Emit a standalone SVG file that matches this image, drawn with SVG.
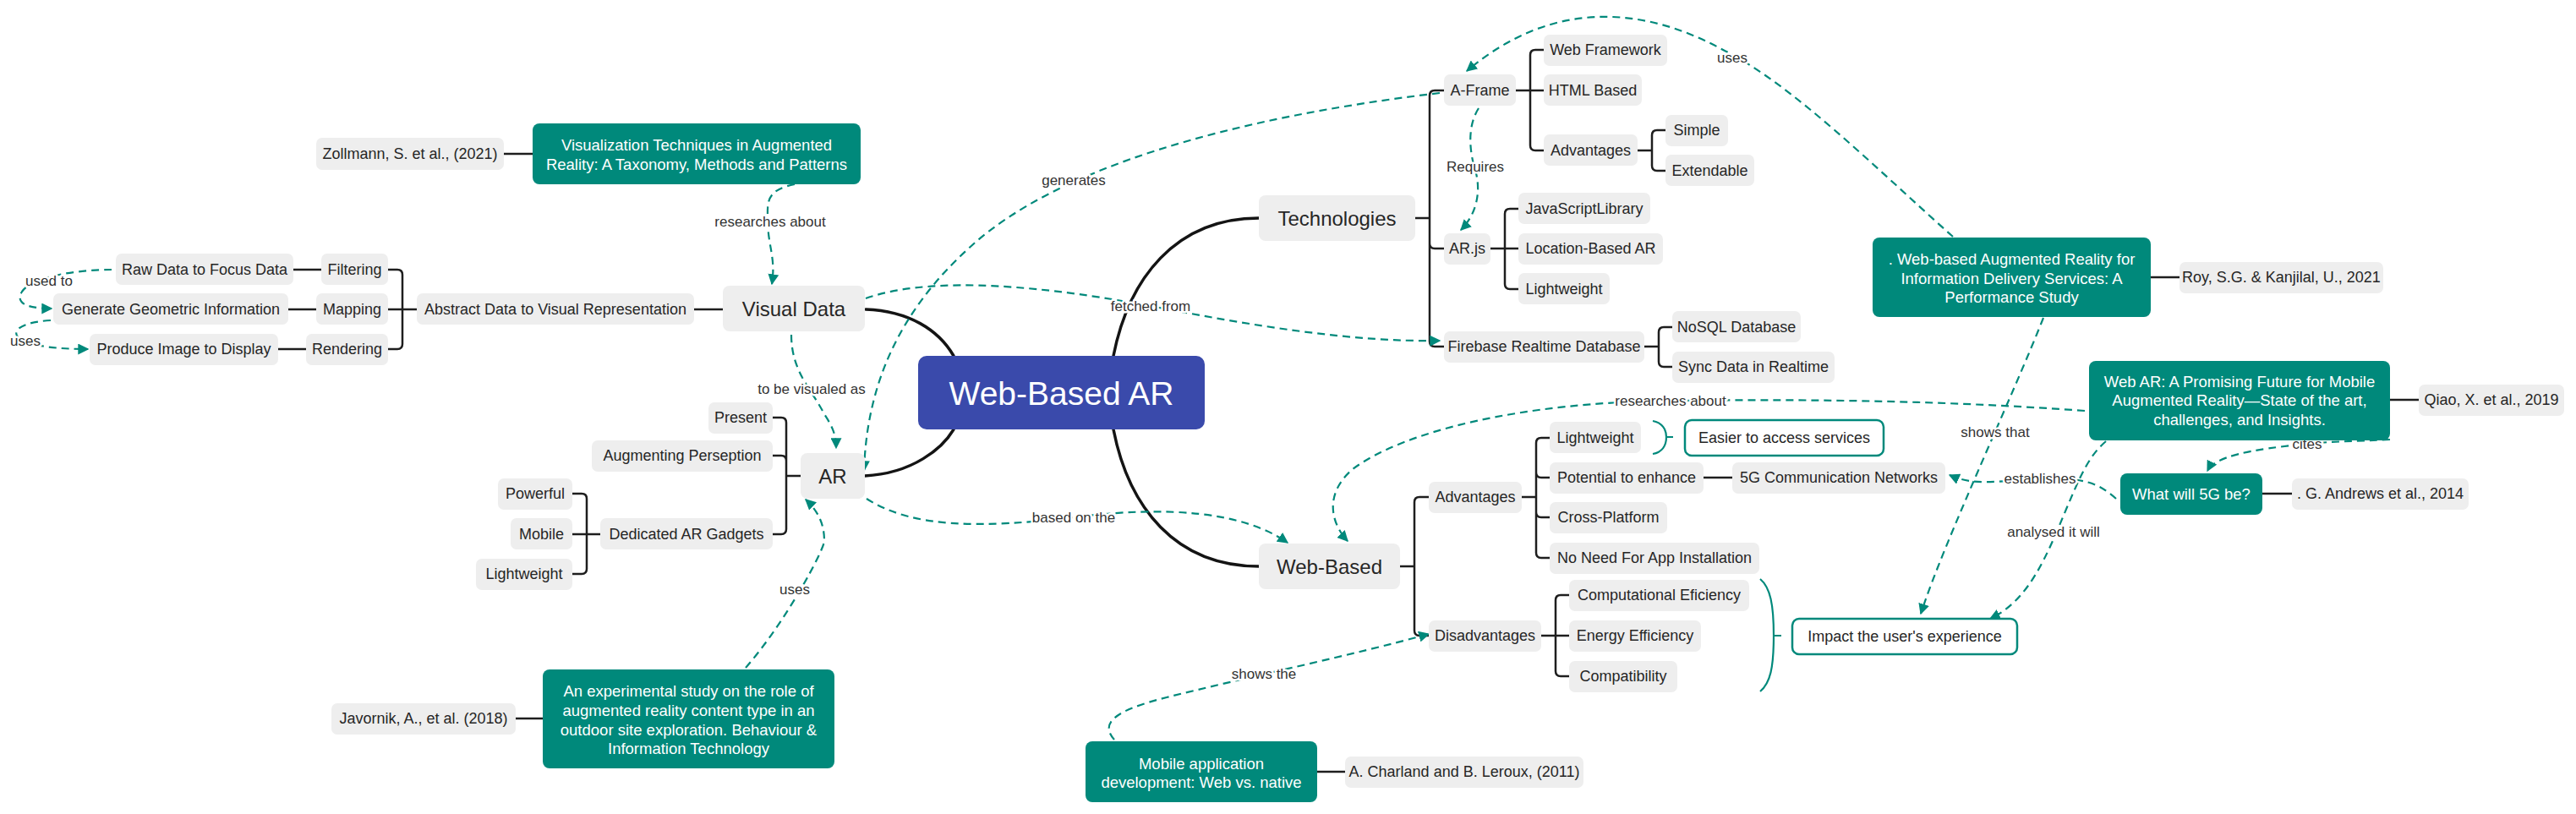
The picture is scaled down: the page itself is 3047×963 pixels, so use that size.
<svg xmlns="http://www.w3.org/2000/svg" width="3047" height="963" viewBox="0 0 3047 963">
<defs>
<style>
.box{fill:#EEEEEE}
.teal{fill:#00897B}
.center{fill:#3A4AAB}
.sum{fill:#FFFFFF;stroke:#00897B;stroke-width:2.5}
.tx{font-family:"Liberation Sans",Arial,sans-serif;font-size:18px;fill:#262626;text-anchor:middle;dominant-baseline:central}
.big{font-size:24px}
.wt{fill:#FFFFFF;font-size:18.5px}
.ct{fill:#FFFFFF;font-size:39px}
.tree{fill:none;stroke:#1E1E1E;stroke-width:2.5;stroke-linecap:round}
.main{fill:none;stroke:#141414;stroke-width:3.5;stroke-linecap:round}
.rel{fill:none;stroke:#00897B;stroke-width:2.2;stroke-dasharray:9 6;marker-end:url(#arr)}
.brace{fill:none;stroke:#00897B;stroke-width:2.2}
.lb{font-family:"Liberation Sans",Arial,sans-serif;font-size:17px;fill:#333333;text-anchor:middle;dominant-baseline:central;paint-order:stroke;stroke:#FFFFFF;stroke-width:5px;stroke-linejoin:round}
</style>
<marker id="arr" viewBox="0 0 10 10" refX="9" refY="5" markerWidth="13" markerHeight="13" markerUnits="userSpaceOnUse" orient="auto">
<path d="M0,0 L10,5 L0,10 z" fill="#00897B"/>
</marker>
</defs>
<rect x="0" y="0" width="3047" height="963" fill="#FFFFFF"/>

<g id="tree-lines">
<path class="tree" d="M347 319 H380 M341 366 H374 M329 413 H362"/>
<path class="tree" d="M459 319 H470 Q476 319 476 325 V407 Q476 413 470 413 H459 M459 366 H493"/>
<path class="tree" d="M821 366 H855"/>
<path class="tree" d="M596 182 H630"/>
<path class="tree" d="M610 850 H642"/>
<path class="tree" d="M914 494 H924 Q930 494 930 500 V626 Q930 632 924 632 H914 M914 539 H924 Q930 539 930 545 M930 563 H947"/>
<path class="tree" d="M677 584 H688 Q694 584 694 590 V673 Q694 679 688 679 H677 M677 632 H710"/>
<path class="tree" d="M1674 258 H1691 M1708 107 H1697 Q1691 107 1691 113 V404 Q1691 410 1697 410 H1708 M1691 288 Q1691 294 1697 294 H1708"/>
<path class="tree" d="M1793 107 H1826 M1826 59 H1816 Q1810 59 1810 65 V172 Q1810 178 1816 178 H1826"/>
<path class="tree" d="M1937 178 H1954 M1970 154 H1960 Q1954 154 1954 160 V196 Q1954 202 1960 202 H1970"/>
<path class="tree" d="M1763 294 H1796 M1796 247 H1786 Q1780 247 1780 253 V336 Q1780 342 1786 342 H1796"/>
<path class="tree" d="M1945 410 H1962 M1978 387 H1968 Q1962 387 1962 393 V428 Q1962 434 1968 434 H1978"/>
<path class="tree" d="M1656 670 H1673 M1690 588 H1679 Q1673 588 1673 594 V746 Q1673 752 1679 752 H1690"/>
<path class="tree" d="M1800 588 H1817 M1833 518 H1823 Q1817 518 1817 524 V654 Q1817 660 1823 660 H1833 M1817 559 Q1817 565 1823 565 H1833 M1817 606 Q1817 612 1823 612 H1833"/>
<path class="tree" d="M2015 565 H2049"/>
<path class="tree" d="M1823 752 H1856 M1856 704 H1846 Q1840 704 1840 710 V794 Q1840 800 1846 800 H1856"/>
<path class="tree" d="M2544 328 H2578 M2827 473 H2861 M2676 584 H2711 M1558 913 H1591"/>
<path class="main" d="M1024 366 C1075 368 1110 390 1128 421"/>
<path class="main" d="M1023 563 C1080 560 1115 530 1128 508"/>
<path class="main" d="M1317 421 C1335 330 1390 258 1489 258"/>
<path class="main" d="M1317 508 C1335 600 1390 670 1489 670"/>
<path class="brace" d="M1955 498 C1966 500 1971 508 1971 517 C1971 527 1966 535 1955 537 M1971 517 H1979"/>
<path class="brace" d="M2082 685 C2094 695 2098 715 2098 752 C2098 790 2094 808 2082 818 M2098 752 H2107"/>
</g>

<g id="connectors">
<path class="rel" d="M132 319 C100 319 40 325 26 345 C18 358 30 365 61 365"/>
<path class="rel" d="M60 379 C25 381 10 392 25 402 C40 410 70 413 104 413"/>
<path class="rel" d="M940 218 C905 225 908 240 908 260 C908 290 918 305 913 336"/>
<path class="rel" d="M936 396 C936 440 960 460 975 490 C985 505 989 515 989 530"/>
<path class="rel" d="M1703 110 C1450 140 1250 200 1150 290 C1060 370 1025 460 1022 557"/>
<path class="rel" d="M1024 353 C1090 330 1200 332 1361 362 C1480 385 1600 405 1703 403"/>
<path class="rel" d="M1025 590 C1080 625 1160 625 1270 612 C1380 598 1470 605 1523 642"/>
<path class="rel" d="M882 790 C930 735 975 650 975 640 C975 620 968 605 953 591"/>
<path class="rel" d="M1749 128 C1735 150 1738 180 1746 205 C1752 230 1745 255 1728 272"/>
<path class="rel" d="M2310 280 C2220 200 2120 100 2040 60 C1950 10 1840 -5 1735 84"/>
<path class="rel" d="M2466 486 C2300 474 2150 472 1976 474 C1800 476 1660 510 1600 555 C1565 585 1575 620 1594 640"/>
<path class="rel" d="M2827 520 C2790 522 2760 522 2729 525 C2660 532 2620 540 2611 557"/>
<path class="rel" d="M2503 590 C2480 570 2465 565 2413 567 C2360 569 2335 575 2306 562"/>
<path class="rel" d="M2417 376 C2380 470 2300 640 2272 726"/>
<path class="rel" d="M2491 522 C2470 540 2460 565 2445 600 C2420 660 2400 710 2354 732"/>
<path class="rel" d="M1318 875 C1300 855 1320 840 1380 825 C1480 800 1600 775 1690 750"/>
<text class="lb" x="58" y="332">used to</text>
<text class="lb" x="30" y="403">uses</text>
<text class="lb" x="911" y="262">researches about</text>
<text class="lb" x="960" y="460">to be visualed as</text>
<text class="lb" x="1270" y="213">generates</text>
<text class="lb" x="1361" y="362">fetched from</text>
<text class="lb" x="1270" y="612">based on the</text>
<text class="lb" x="940" y="697">uses</text>
<text class="lb" x="1745" y="197">Requires</text>
<text class="lb" x="2049" y="68">uses</text>
<text class="lb" x="1976" y="474">researches about</text>
<text class="lb" x="2729" y="525">cites</text>
<text class="lb" x="2413" y="566">establishes</text>
<text class="lb" x="2360" y="511">shows that</text>
<text class="lb" x="2429" y="629">analysed it will</text>
<text class="lb" x="1495" y="797">shows the</text>
</g>

<g id="n-center"><rect class="center" x="1086" y="421" width="339" height="87" rx="10"/><text class="tx ct" x="1255.5" y="465">Web-Based AR</text></g>

<g id="n-visual"><rect class="box" x="855" y="338" width="168" height="54" rx="8"/><text class="tx big" x="939" y="365">Visual Data</text></g>
<g id="n-abstract"><rect class="box" x="493" y="347" width="328" height="37" rx="7"/><text class="tx" x="657" y="366">Abstract Data to Visual Representation</text></g>
<g id="n-filtering"><rect class="box" x="380" y="300" width="79" height="37" rx="7"/><text class="tx" x="419.5" y="319">Filtering</text></g>
<g id="n-mapping"><rect class="box" x="374" y="347" width="85" height="37" rx="7"/><text class="tx" x="416.5" y="366">Mapping</text></g>
<g id="n-rendering"><rect class="box" x="362" y="395" width="97" height="37" rx="7"/><text class="tx" x="410.5" y="413">Rendering</text></g>
<g id="n-raw"><rect class="box" x="137" y="300" width="210" height="37" rx="7"/><text class="tx" x="242" y="319">Raw Data to Focus Data</text></g>
<g id="n-generate"><rect class="box" x="63" y="347" width="278" height="37" rx="7"/><text class="tx" x="202" y="366">Generate Geometric Information</text></g>
<g id="n-produce"><rect class="box" x="106" y="395" width="223" height="37" rx="7"/><text class="tx" x="217.5" y="413">Produce Image to Display</text></g>
<g id="n-zollmann"><rect class="box" x="374" y="163" width="222" height="38" rx="7"/><text class="tx" x="485" y="182">Zollmann, S. et al., (2021)</text></g>
<g id="n-vistech"><rect class="teal" x="630" y="146" width="388" height="72" rx="8"/><text class="tx wt" x="824" y="171">Visualization Techniques in Augmented</text><text class="tx wt" x="824" y="194">Reality: A Taxonomy, Methods and Patterns</text></g>

<g id="n-ar"><rect class="box" x="947" y="536" width="76" height="54" rx="8"/><text class="tx big" x="985" y="563">AR</text></g>
<g id="n-present"><rect class="box" x="838" y="476" width="76" height="37" rx="7"/><text class="tx" x="876" y="494">Present</text></g>
<g id="n-augmenting"><rect class="box" x="700" y="521" width="214" height="37" rx="7"/><text class="tx" x="807" y="539">Augmenting Perseption</text></g>
<g id="n-gadgets"><rect class="box" x="710" y="613" width="204" height="37" rx="7"/><text class="tx" x="812" y="632">Dedicated AR Gadgets</text></g>
<g id="n-powerful"><rect class="box" x="589" y="566" width="88" height="37" rx="7"/><text class="tx" x="633" y="584">Powerful</text></g>
<g id="n-mobile"><rect class="box" x="604" y="613" width="73" height="37" rx="7"/><text class="tx" x="640.5" y="632">Mobile</text></g>
<g id="n-lightweight-ar"><rect class="box" x="563" y="661" width="114" height="37" rx="7"/><text class="tx" x="620" y="679">Lightweight</text></g>
<g id="n-javornik"><rect class="box" x="392" y="832" width="218" height="37" rx="7"/><text class="tx" x="501" y="850">Javornik, A., et al. (2018)</text></g>
<g id="n-experimental"><rect class="teal" x="642" y="792" width="345" height="117" rx="8"/><text class="tx wt" x="814.5" y="817">An experimental study on the role of</text><text class="tx wt" x="814.5" y="840">augmented reality content type in an</text><text class="tx wt" x="814.5" y="863">outdoor site exploration. Behaviour &amp;</text><text class="tx wt" x="814.5" y="885">Information Technology</text></g>

<g id="n-technologies"><rect class="box" x="1489" y="231" width="185" height="54" rx="8"/><text class="tx big" x="1581.5" y="258">Technologies</text></g>
<g id="n-aframe"><rect class="box" x="1708" y="88" width="85" height="37" rx="7"/><text class="tx" x="1750.5" y="107">A-Frame</text></g>
<g id="n-webframework"><rect class="box" x="1826" y="41" width="146" height="37" rx="7"/><text class="tx" x="1899" y="59">Web Framework</text></g>
<g id="n-html"><rect class="box" x="1826" y="88" width="116" height="37" rx="7"/><text class="tx" x="1884" y="107">HTML Based</text></g>
<g id="n-adv-af"><rect class="box" x="1826" y="159" width="111" height="37" rx="7"/><text class="tx" x="1881.5" y="178">Advantages</text></g>
<g id="n-simple"><rect class="box" x="1970" y="136" width="74" height="37" rx="7"/><text class="tx" x="2007" y="154">Simple</text></g>
<g id="n-extendable"><rect class="box" x="1970" y="183" width="105" height="37" rx="7"/><text class="tx" x="2022.5" y="202">Extendable</text></g>
<g id="n-arjs"><rect class="box" x="1708" y="276" width="55" height="37" rx="7"/><text class="tx" x="1735.5" y="294">AR.js</text></g>
<g id="n-jslib"><rect class="box" x="1796" y="228" width="156" height="37" rx="7"/><text class="tx" x="1874" y="247">JavaScriptLibrary</text></g>
<g id="n-location"><rect class="box" x="1796" y="276" width="171" height="37" rx="7"/><text class="tx" x="1881.5" y="294">Location-Based AR</text></g>
<g id="n-lightweight-js"><rect class="box" x="1796" y="323" width="108" height="37" rx="7"/><text class="tx" x="1850" y="342">Lightweight</text></g>
<g id="n-firebase"><rect class="box" x="1708" y="392" width="237" height="37" rx="7"/><text class="tx" x="1826.5" y="410">Firebase Realtime Database</text></g>
<g id="n-nosql"><rect class="box" x="1978" y="368" width="152" height="37" rx="7"/><text class="tx" x="2054" y="387">NoSQL Database</text></g>
<g id="n-sync"><rect class="box" x="1978" y="416" width="192" height="37" rx="7"/><text class="tx" x="2074" y="434">Sync Data in Realtime</text></g>

<g id="n-webbased"><rect class="box" x="1489" y="643" width="167" height="54" rx="8"/><text class="tx big" x="1572.5" y="670">Web-Based</text></g>
<g id="n-adv-wb"><rect class="box" x="1690" y="570" width="110" height="37" rx="7"/><text class="tx" x="1745" y="588">Advantages</text></g>
<g id="n-disadv"><rect class="box" x="1690" y="734" width="133" height="37" rx="7"/><text class="tx" x="1756.5" y="752">Disadvantages</text></g>
<g id="n-lightweight-wb"><rect class="box" x="1833" y="499" width="108" height="37" rx="7"/><text class="tx" x="1887" y="518">Lightweight</text></g>
<g id="n-potential"><rect class="box" x="1833" y="547" width="182" height="37" rx="7"/><text class="tx" x="1924" y="565">Potential to enhance</text></g>
<g id="n-cross"><rect class="box" x="1833" y="594" width="139" height="37" rx="7"/><text class="tx" x="1902.5" y="612">Cross-Platform</text></g>
<g id="n-noneed"><rect class="box" x="1833" y="642" width="248" height="37" rx="7"/><text class="tx" x="1957" y="660">No Need For App Installation</text></g>
<g id="n-5gcomm"><rect class="box" x="2049" y="547" width="252" height="37" rx="7"/><text class="tx" x="2175" y="565">5G Communication Networks</text></g>
<g id="n-comp-eff"><rect class="box" x="1856" y="686" width="213" height="37" rx="7"/><text class="tx" x="1962.5" y="704">Computational Eficiency</text></g>
<g id="n-energy"><rect class="box" x="1856" y="734" width="156" height="37" rx="7"/><text class="tx" x="1934" y="752">Energy Efficiency</text></g>
<g id="n-compat"><rect class="box" x="1856" y="782" width="128" height="37" rx="7"/><text class="tx" x="1920" y="800">Compatibility</text></g>
<g id="n-easier"><rect class="sum" x="1993" y="497" width="235" height="42" rx="8"/><text class="tx" x="2110.5" y="518">Easier to access services</text></g>
<g id="n-impact"><rect class="sum" x="2120" y="732" width="266" height="42" rx="8"/><text class="tx" x="2253" y="753">Impact the user's experience</text></g>

<g id="n-roy-paper"><rect class="teal" x="2215" y="281" width="329" height="94" rx="8"/><text class="tx wt" x="2379.5" y="306">. Web-based Augmented Reality for</text><text class="tx wt" x="2379.5" y="329">Information Delivery Services: A</text><text class="tx wt" x="2379.5" y="351">Performance Study</text></g>
<g id="n-roy"><rect class="box" x="2578" y="310" width="241" height="37" rx="7"/><text class="tx" x="2698.5" y="328">Roy, S.G. &amp; Kanjilal, U., 2021</text></g>
<g id="n-webar-paper"><rect class="teal" x="2471" y="427" width="356" height="94" rx="8"/><text class="tx wt" x="2649" y="451">Web AR: A Promising Future for Mobile</text><text class="tx wt" x="2649" y="473">Augmented Reality—State of the art,</text><text class="tx wt" x="2649" y="496">challenges, and Insights.</text></g>
<g id="n-qiao"><rect class="box" x="2861" y="455" width="172" height="37" rx="7"/><text class="tx" x="2947" y="473">Qiao, X. et al., 2019</text></g>
<g id="n-5g-paper"><rect class="teal" x="2508" y="560" width="168" height="49" rx="8"/><text class="tx wt" x="2592" y="584">What will 5G be?</text></g>
<g id="n-andrews"><rect class="box" x="2711" y="566" width="209" height="37" rx="7"/><text class="tx" x="2815.5" y="584">. G. Andrews et al., 2014</text></g>
<g id="n-mobile-paper"><rect class="teal" x="1284" y="877" width="274" height="72" rx="8"/><text class="tx wt" x="1421" y="903">Mobile application</text><text class="tx wt" x="1421" y="925">development: Web vs. native</text></g>
<g id="n-charland"><rect class="box" x="1591" y="895" width="282" height="37" rx="7"/><text class="tx" x="1732" y="913">A. Charland and B. Leroux, (2011)</text></g>
</svg>
